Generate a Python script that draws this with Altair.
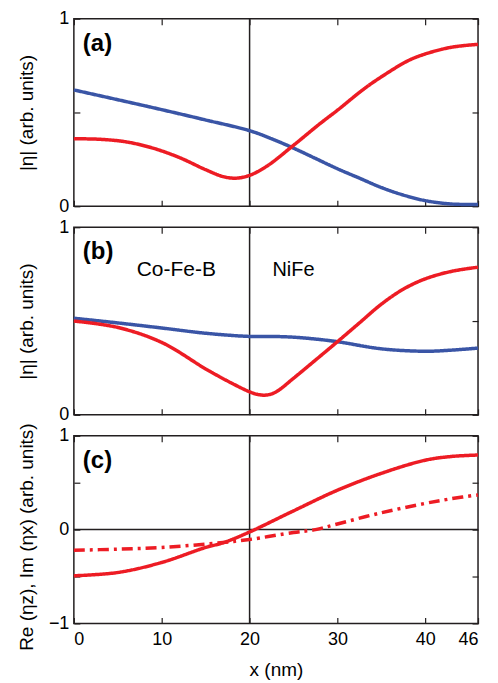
import altair as alt
import pandas as pd

FONT = "Liberation Sans"
RED = "#ED1C24"
BLUE = "#3A55A6"
INK = "#231F20"
TICK = 6

X_DOMAIN = [0, 46]
X_TICKS = [0, 10, 20, 30, 40, 46]
INTERFACE_X = [20]
ZERO_Y = [0]

# ---- panel (a) ----
a_blue_x = [0, 5, 10, 15, 20, 22.5, 25, 27.5, 30, 32.5, 35, 37.5, 40, 43, 46]
a_blue_y = [0.62, 0.568, 0.515, 0.46, 0.403, 0.36, 0.31, 0.255, 0.2, 0.15, 0.1, 0.06, 0.03, 0.012, 0.01]
a_red_x = [0, 3, 6, 9, 12, 15, 17, 18.5, 20, 22, 25, 28, 30, 33, 35, 38, 40, 43, 46]
a_red_y = [0.36, 0.357, 0.343, 0.31, 0.26, 0.195, 0.158, 0.15, 0.165, 0.215, 0.325, 0.44, 0.512, 0.625, 0.69, 0.775, 0.812, 0.848, 0.863]

# ---- panel (b) ----
b_blue_x = [0, 5, 10, 15, 20, 22.5, 25, 27.5, 30, 35, 40, 43, 46]
b_blue_y = [0.515, 0.49, 0.463, 0.435, 0.418, 0.418, 0.414, 0.404, 0.39, 0.352, 0.339, 0.345, 0.356]
b_red_x = [0, 5, 10, 15, 18, 20, 21, 22, 23, 25, 27.5, 30, 32.5, 35, 37.5, 40, 43, 46]
b_red_y = [0.50, 0.466, 0.386, 0.245, 0.168, 0.123, 0.108, 0.106, 0.122, 0.195, 0.292, 0.39, 0.49, 0.59, 0.67, 0.725, 0.765, 0.787]

# ---- panel (c) ----
c_re_x = [0, 5, 10, 15, 17, 20, 25, 30, 35, 40, 43, 46]
c_re_y = [-0.492, -0.457, -0.35, -0.19, -0.14, -0.025, 0.2, 0.42, 0.60, 0.74, 0.78, 0.795]
c_im_x = [0, 5, 10, 16, 20, 25, 27.5, 30, 35, 40, 43, 46]
c_im_y = [-0.22, -0.208, -0.19, -0.146, -0.105, -0.03, 0.0, 0.06, 0.18, 0.28, 0.33, 0.37]

Y01_TICKS = [0, 0.5, 1]
YPM_TICKS = [-1, -0.5, 0, 0.5, 1]


def ax(**kw):
    base = dict(offset=-TICK, tickSize=TICK, tickColor=INK, tickWidth=1.2,
                domain=False, grid=False, labelFont=FONT, labelFontSize=18,
                labelColor="black", titleFont=FONT, titleFontSize=19,
                titleFontWeight="normal", titleColor="black", labelOverlap=False)
    base.update(kw)
    return alt.Axis(**base)


def panel(series, ydom, yticks, ytitle, letter, show_x, texts, title_y=None):
    xs = alt.Scale(domain=X_DOMAIN, nice=False, zero=False)
    ys = alt.Scale(domain=ydom, nice=False, zero=False)
    rows = []
    for name, xv, yv, _c, _d in series:
        for xi, yi in zip(xv, yv):
            rows.append({"x": xi, "y": yi, "s": name})
    df = pd.DataFrame(rows)
    names = [s[0] for s in series]
    colors = [s[3] for s in series]
    dashes = [s[4] for s in series]

    bkw = dict(orient="bottom", values=X_TICKS, labels=show_x, labelPadding=7, format="d")
    if show_x:
        bkw.update(title="x (nm)", titlePadding=12, titleFontSize=19)
    else:
        bkw.update(title=None)
    lkw = dict(orient="left", values=yticks, title=ytitle, labelPadding=5, format="~g",
               labelExpr="abs(datum.value) == 0.5 ? '' : datum.label",
               titleX=-43)
    if title_y is not None:
        lkw.update(titleY=title_y)

    lines = alt.Chart(df).mark_line(strokeWidth=3.5, interpolate="catmull-rom").encode(
        x=alt.X("x:Q", scale=xs, axis=ax(**bkw)),
        y=alt.Y("y:Q", scale=ys, axis=ax(**lkw)),
        color=alt.Color("s:N", scale=alt.Scale(domain=names, range=colors), legend=None),
        strokeDash=alt.StrokeDash("s:N", scale=alt.Scale(domain=names, range=dashes), legend=None),
    )

    idf = pd.DataFrame({"xi": INTERFACE_X, "lo": [ydom[0]], "hi": [ydom[1]]})
    iface = alt.Chart(idf).mark_rule(color=INK, strokeWidth=1.5).encode(
        x=alt.X("xi:Q", scale=xs, axis=ax(orient="top", values=X_TICKS, labels=False, title=None)),
        y=alt.Y("lo:Q", scale=ys, axis=ax(orient="right", values=yticks, labels=False, title=None)),
        y2="hi:Q",
    )
    layers = [iface]
    if ydom[0] < 0:
        zero = alt.Chart(pd.DataFrame({"z": ZERO_Y})).mark_rule(color=INK, strokeWidth=1.5).encode(
            y=alt.Y("z:Q", scale=ys, axis=None))
        layers.append(zero)
    layers.append(lines)
    lab = alt.Chart(pd.DataFrame({"t": [letter]})).mark_text(
        font=FONT, fontSize=24, fontWeight="bold", align="left", baseline="middle", color="black"
    ).encode(text="t:N", x=alt.value(9), y=alt.value(25))
    layers.append(lab)
    for t, px, py, fs in texts:
        layers.append(alt.Chart(pd.DataFrame({"t": [t]})).mark_text(
            font=FONT, fontSize=fs, align="left", baseline="middle", color="black"
        ).encode(text="t:N", x=alt.value(px), y=alt.value(py)))
    return alt.layer(*layers).properties(width=405, height=188)


pa = panel([("a_blue", a_blue_x, a_blue_y, BLUE, [1, 0]), ("a_red", a_red_x, a_red_y, RED, [1, 0])],
           [0, 1], Y01_TICKS, "|η| (arb. units)", "(a)", False, [])
pb = panel([("b_blue", b_blue_x, b_blue_y, BLUE, [1, 0]), ("b_red", b_red_x, b_red_y, RED, [1, 0])],
           [0, 1], Y01_TICKS, "|η| (arb. units)", "(b)", False,
           [("Co-Fe-B", 63, 43, 21), ("NiFe", 199, 43, 20)])
pc = panel([("c_re", c_re_x, c_re_y, RED, [1, 0]), ("c_im", c_im_x, c_im_y, RED, [11, 5, 3, 5])],
           [-1, 1], YPM_TICKS, "Re (ηz), Im (ηx) (arb. units)", "(c)", True, [], title_y=101)

chart = alt.vconcat(pa, pb, pc, spacing=21, bounds="flush").resolve_scale(
    color="independent", strokeDash="independent"
).properties(
    padding={"left": 9, "top": 0, "right": 4, "bottom": 0}
).configure_view(stroke=INK, strokeWidth=1.5)

chart.save("out.html", embed_options={"renderer": "svg", "actions": False})
